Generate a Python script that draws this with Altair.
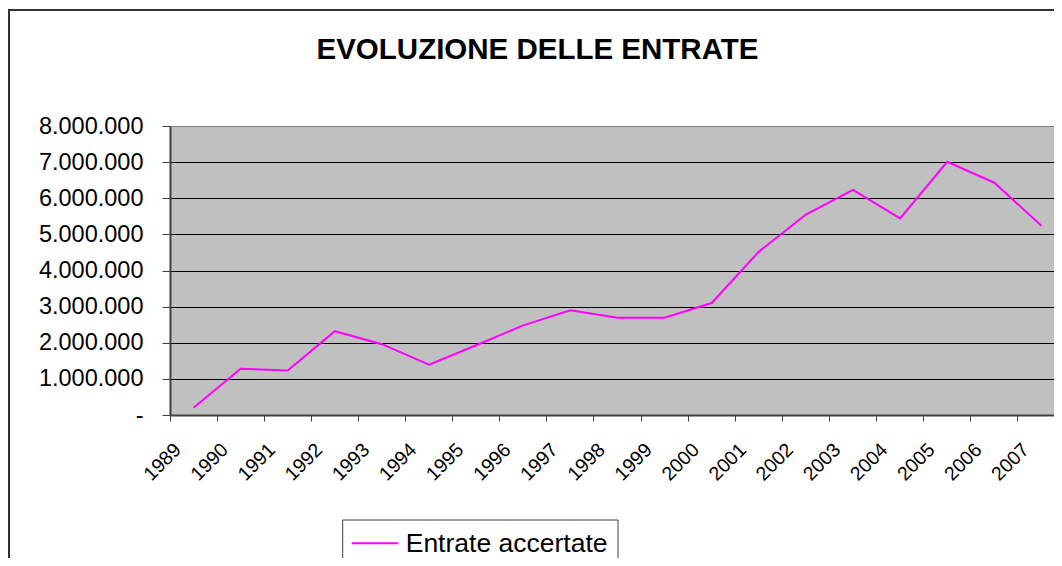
import altair as alt
import pandas as pd

# ---- data ----
years = ["1989", "1990", "1991", "1992", "1993", "1994", "1995", "1996", "1997", "1998",
         "1999", "2000", "2001", "2002", "2003", "2004", "2005", "2006", "2007"]
entrate = [200000, 1280000, 1230000, 2320000, 1960000, 1390000, 1930000, 2480000, 2900000,
           2690000, 2690000, 3100000, 4520000, 5550000, 6230000, 5440000, 7010000, 6430000, 5240000]
series_name = "Entrate accertate"
chart_title = "EVOLUZIONE DELLE ENTRATE"
y_ticks = [0, 1000000, 2000000, 3000000, 4000000, 5000000, 6000000, 7000000, 8000000]

df = pd.DataFrame({"anno": years, "valore": entrate, "serie": series_name})
one = pd.DataFrame({"k": [0]})

FONT = "Liberation Sans"
MAGENTA = "#FF00FF"

x_axis = alt.Axis(
    title=None, bandPosition=0, labelAngle=-45, labelAlign="right", labelBaseline="top",
    labelOffset=-22, labelPadding=19, tickSize=6, tickColor="#404040", tickWidth=1,
    domainColor="#404040", domainWidth=2, grid=False, labelFont=FONT, labelFontSize=19.5,
    labelColor="black", labelOverlap=False,
)
y_axis = alt.Axis(
    title=None, values=y_ticks,
    labelExpr="datum.value == 0 ? '-' : replace(format(datum.value, ',d'), regexp(',', 'g'), '.')",
    labelFont=FONT, labelFontSize=23.5, labelColor="black", labelPadding=19, labelOverlap=False,
    tickSize=8, tickColor="#404040", tickWidth=1, domainColor="#404040", domainWidth=2,
    grid=True, gridWidth=1,
    gridColor={"condition": {"test": "datum.value >= 8000000", "value": "#808080"}, "value": "#000000"},
)

line = alt.Chart(df).mark_line(color=MAGENTA, strokeWidth=2).encode(
    x=alt.X("anno:O", scale=alt.Scale(type="band", paddingInner=0, paddingOuter=0, range=[0, 895]),
            axis=x_axis),
    y=alt.Y("valore:Q", scale=alt.Scale(domain=[0, 8000000], nice=False, zero=True), axis=y_axis),
)

frame = alt.Chart(one).mark_rect(fillOpacity=0, stroke="#333333", strokeWidth=2).encode(
    x=alt.value(-161), x2=alt.value(1200), y=alt.value(-116), y2=alt.value(900)
)

title = alt.Chart(one).mark_text(
    align="center", baseline="alphabetic", font=FONT, fontSize=29.5, fontWeight="bold", color="black"
).encode(x=alt.value(367.5), y=alt.value(-67), text=alt.value(chart_title))

leg_box = alt.Chart(one).mark_rect(fill="white", stroke="#404040", strokeWidth=1).encode(
    x=alt.value(172.7), x2=alt.value(448), y=alt.value(394), y2=alt.value(480)
)
leg_line = alt.Chart(one).mark_rule(color=MAGENTA, strokeWidth=2).encode(
    x=alt.value(181.7), x2=alt.value(228.3), y=alt.value(417.3)
)
leg_text = alt.Chart(df.head(1)).mark_text(
    align="left", baseline="alphabetic", font=FONT, fontSize=26.5, color="black"
).encode(x=alt.value(235.7), y=alt.value(425.7), text="serie:N")

chart = alt.layer(frame, line, title, leg_box, leg_line, leg_text).properties(
    width=884, height=289,
    padding={"left": 162, "top": 118, "right": 0, "bottom": 143},
    autosize=alt.AutoSizeParams(type="none"),
    background="white",
).configure_view(fill="#C0C0C0", stroke="#808080", strokeWidth=1)

chart.save("out.html", embed_options={"renderer": "svg", "actions": False})
